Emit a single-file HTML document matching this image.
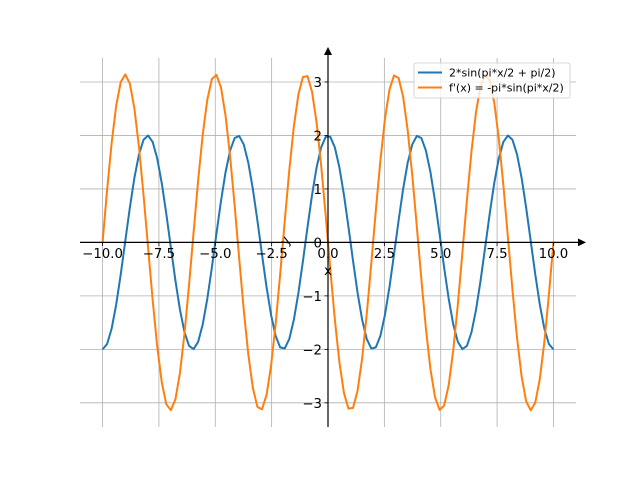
<!DOCTYPE html>
<html><head><meta charset="utf-8"><style>
body{margin:0;background:#fff}
svg{display:block}
text{font-family:"DejaVu Sans","Liberation Sans",sans-serif;font-size:13.3px;fill:#000}
</style></head><body>
<svg id="s" width="640" height="480" viewBox="0 0 640 480" xmlns="http://www.w3.org/2000/svg">
<g id="grid" stroke="#b0b0b0" stroke-width="0.8"></g>
<g id="lines" fill="none" stroke-width="2" stroke-linejoin="round"></g>
<line x1="80" y1="242.4" x2="580" y2="242.4" stroke="#000" stroke-width="1.2"/>
<polygon points="586,242.4 578,238.5 578,246.3" fill="#000"/>
<line x1="328" y1="427" x2="328" y2="54" stroke="#000" stroke-width="1.2"/>
<polygon points="328,47 324,55 332,55" fill="#000"/>
<g id="ticks" stroke="#000" stroke-width="0.8"></g>
<g id="labels"></g>
<text x="328" y="275" text-anchor="middle">x</text>
<text x="0" y="0" text-anchor="middle" transform="translate(289,243) rotate(-60)">y</text>
<g>
<rect x="414" y="63" width="156" height="35" fill="#fff" fill-opacity="0.8" stroke="#ccc" stroke-width="0.8" rx="2"/>
<line x1="418" y1="72.5" x2="442" y2="72.5" stroke="#1f77b4" stroke-width="2"/>
<text x="449" y="76.5" style="font-size:11px">2*sin(pi*x/2 + pi/2)</text>
<line x1="418" y1="87.5" x2="442" y2="87.5" stroke="#ff7f0e" stroke-width="2"/>
<text x="449" y="91.5" style="font-size:11px">f'(x) = -pi*sin(pi*x/2)</text>
</g>
</svg>
<script>
var ns="http://www.w3.org/2000/svg";
function X(v){return 328+v*22.545}
function Y(v){return 242.4-v*53.47}
function el(p,t,a){var e=document.createElementNS(ns,t);for(var k in a)e.setAttribute(k,a[k]);document.getElementById(p).appendChild(e);return e}
function f(s){return String(s).replace("-","\u2212")}
var xt=[-10,-7.5,-5,-2.5,0,2.5,5,7.5,10];
xt.forEach(function(v){var x=X(v);el("grid","line",{x1:x,x2:x,y1:58,y2:427});
el("ticks","line",{x1:x,x2:x,y1:242.4,y2:246});
var t=el("labels","text",{x:x,y:258,"text-anchor":"middle"});t.textContent=f(v.toFixed(1));});
[-3,-2,-1,0,1,2,3].forEach(function(v){var y=Y(v);el("grid","line",{x1:80,x2:576,y1:y,y2:y});
el("ticks","line",{x1:324.5,x2:328,y1:y,y2:y});
var t=el("labels","text",{x:322,y:y+5,"text-anchor":"end"});t.textContent=f(v);});
var n=100,a="",b="";
for(var i=0;i<n;i++){var x=-10+20*i/(n-1);
a+=(i?"L":"M")+X(x).toFixed(2)+","+Y(2*Math.cos(Math.PI*x/2)).toFixed(2);
b+=(i?"L":"M")+X(x).toFixed(2)+","+Y(-Math.PI*Math.sin(Math.PI*x/2)).toFixed(2);}
el("lines","path",{d:a,stroke:"#1f77b4"});
el("lines","path",{d:b,stroke:"#ff7f0e"});
</script>
</body></html>
